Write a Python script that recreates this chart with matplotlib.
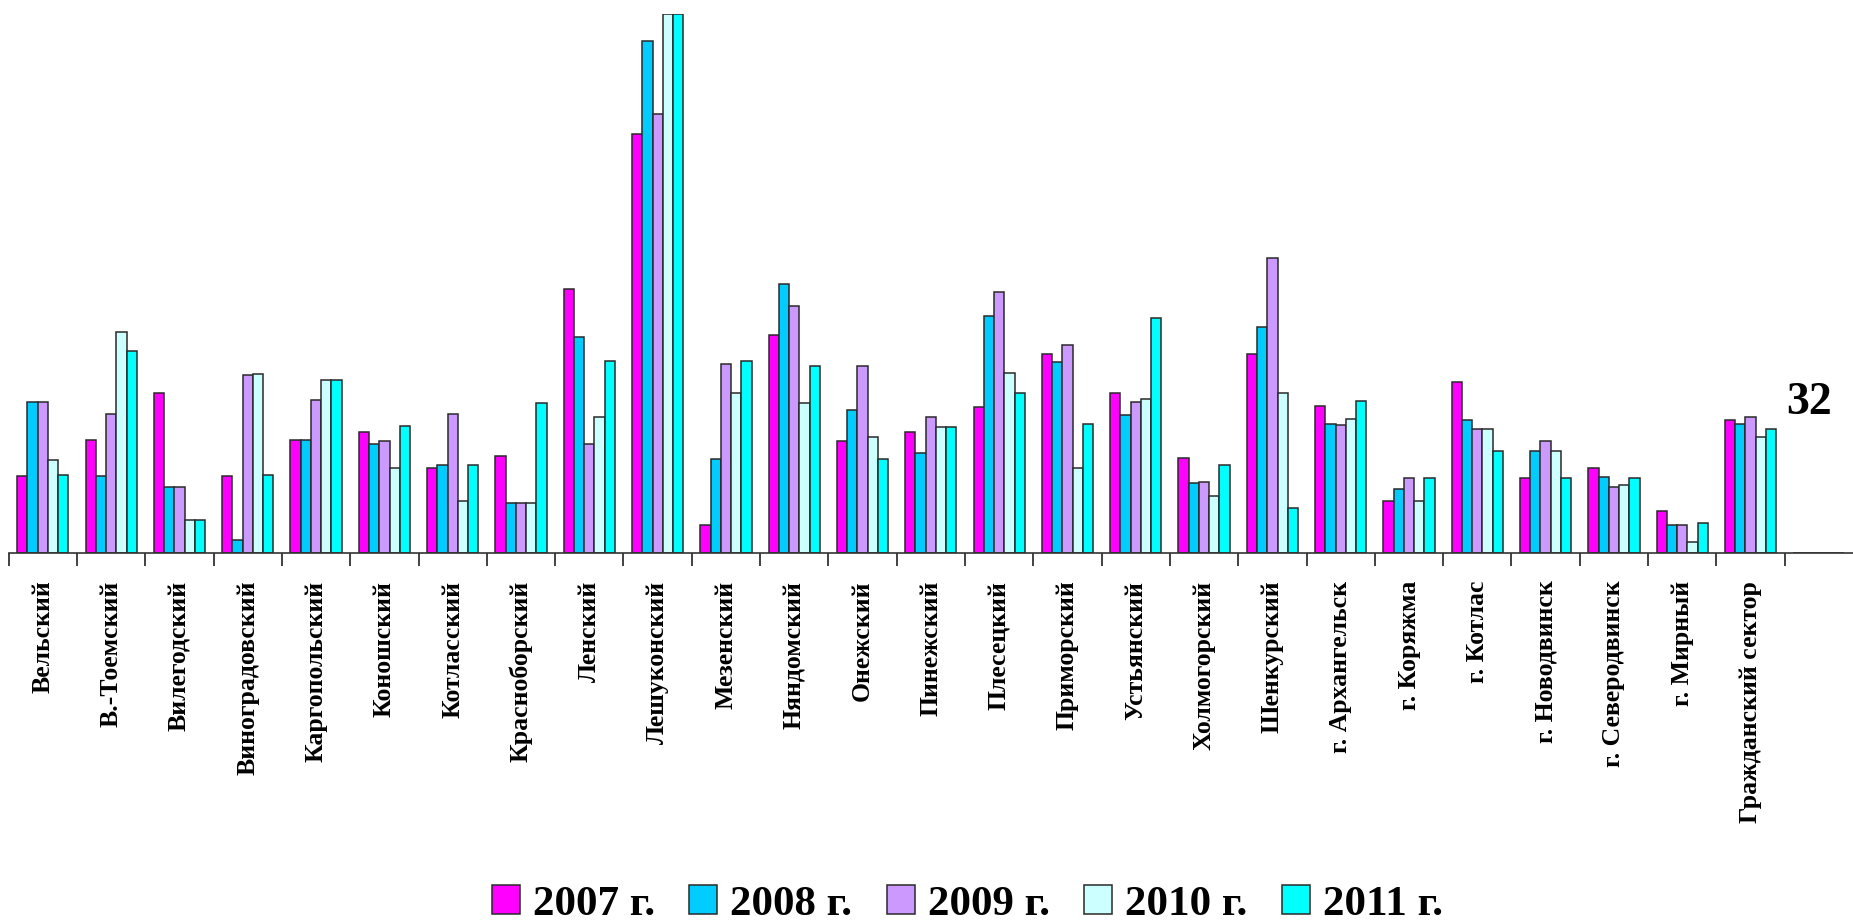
import matplotlib.pyplot as plt
import numpy as np

districts = ["Вельский", "В.-Тоемский", "Вилегодский", "Виноградовский", "Каргопольский",
             "Коношский", "Котласский", "Красноборский", "Ленский", "Лешуконский",
             "Мезенский", "Няндомский", "Онежский", "Пинежский", "Плесецкий",
             "Приморский", "Устьянский", "Холмогорский", "Шенкурский", "г. Архангельск",
             "г. Коряжма", "г. Котлас", "г. Новодвинск", "г. Северодвинск", "г. Мирный",
             "Гражданский сектор", ""]

y2007 = [18.7, 27.4, 38.9, 18.7, 27.4, 29.4, 20.7, 23.6, 64.0, 101.7, 6.9, 53.0, 27.1,
         29.4, 35.4, 48.4, 38.9, 23.1, 48.4, 35.7, 12.7, 41.5, 18.2, 20.7, 10.1, 32.3, 0]
y2008 = [36.6, 18.7, 15.9, 3.2, 27.4, 26.5, 21.3, 12.1, 52.4, 124.2, 22.8, 65.4, 34.6,
         24.2, 57.6, 46.4, 33.4, 17.0, 54.8, 31.4, 15.6, 32.3, 24.8, 18.4, 6.9, 31.4, 0]
y2009 = [36.6, 33.7, 15.9, 43.2, 37.2, 27.1, 33.7, 12.1, 26.5, 106.6, 45.8, 59.9, 45.5,
         33.1, 63.4, 50.4, 36.6, 17.3, 71.5, 31.1, 18.2, 30.0, 27.1, 16.1, 6.9, 33.1, 0]
y2010 = [22.5, 53.6, 8.1, 43.5, 42.1, 20.7, 12.7, 12.1, 33.1, 130.8, 38.9, 36.3, 28.2,
         30.5, 43.8, 20.7, 37.5, 13.8, 38.9, 32.6, 12.7, 30.0, 24.8, 16.4, 2.6, 28.2, 0]
y2011 = [19.0, 49.0, 8.1, 19.0, 42.1, 30.8, 21.3, 36.3, 46.7, 130.8, 46.7, 45.5, 22.8,
         30.5, 38.9, 31.4, 57.1, 21.3, 11.0, 36.9, 18.2, 24.8, 18.2, 18.2, 7.2, 30.0, 0]

series = [y2007, y2008, y2009, y2010, y2011]
years = ["2007 г.", "2008 г.", "2009 г.", "2010 г.", "2011 г."]
colors = ["#FF00FF", "#00CCFF", "#CC99FF", "#CCFFFF", "#00FFFF"]

plt.rcParams['font.family'] = ['Liberation Serif', 'DejaVu Serif']
plt.rcParams['font.weight'] = 'bold'

fig = plt.figure(figsize=(18.53, 9.21), dpi=100)
ax = fig.add_axes([0.0047, 0.3996, 0.9953, 0.585])

x = np.arange(len(districts))
w = 0.15
for i, (vals, yr, c) in enumerate(zip(series, years, colors)):
    ax.bar(x + (i - 2) * w, vals, w, color=c, edgecolor="#2a2a2a", linewidth=1.1, label=yr)

ax.set_xlim(-0.5, len(districts) - 0.5)
ax.set_ylim(0, 130.8)

for s in ["top", "right", "left"]:
    ax.spines[s].set_visible(False)
ax.spines["bottom"].set_color("#333333")
ax.spines["bottom"].set_linewidth(1.2)
ax.set_yticks([])

ax.set_xticks(x)
ax.set_xticklabels(districts, rotation=90, fontsize=18.5, fontweight="bold", va="top")
ax.tick_params(axis="x", which="major", length=0, pad=20)
ax.set_xticks(np.arange(-0.5, len(districts) - 1, 1.0), minor=True)
ax.tick_params(axis="x", which="minor", length=9, width=1.3, color="#333333")

ax.text(25.85, 36.3, "32", fontsize=33, fontweight="bold", ha="center", va="center")

fig.legend(loc="center", bbox_to_anchor=(0.522, 0.018), ncol=5, frameon=False,
           prop={"size": 31, "weight": "bold"}, handlelength=0.65, handleheight=0.65,
           handletextpad=0.3, columnspacing=0.8)

fig.savefig("out.png", dpi=100)
